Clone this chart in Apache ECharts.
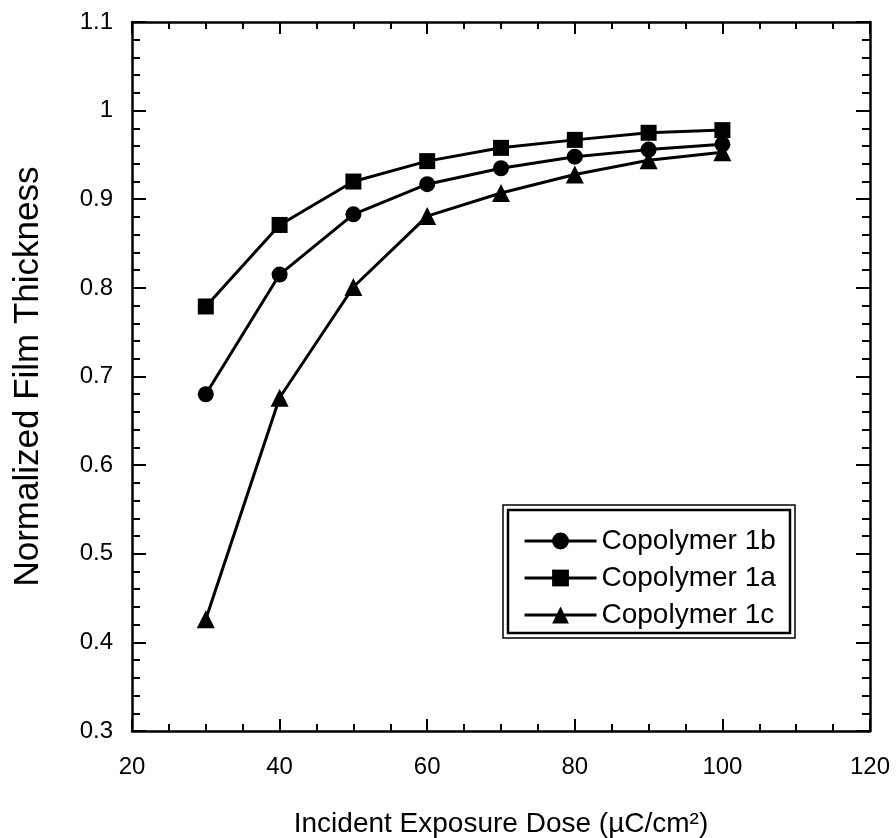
<!DOCTYPE html>
<html>
<head>
<meta charset="utf-8">
<script src="https://cdn.jsdelivr.net/npm/echarts@6/dist/echarts.min.js"></script>
<style>
  html, body { margin: 0; padding: 0; background: #fff; }
  #chart { width: 896px; height: 838px; }
</style>
</head>
<body>
<div id="chart"></div>
<script>
// dose values (uC/cm2)
var doses = [30, 40, 50, 60, 70, 80, 90, 100]
// normalized film thickness
var copolymer1b = [0.680, 0.815, 0.883, 0.917, 0.935, 0.948, 0.956, 0.962]
var copolymer1a = [0.779, 0.871, 0.920, 0.943, 0.958, 0.967, 0.975, 0.978]
var copolymer1c = [0.426, 0.676, 0.801, 0.881, 0.907, 0.928, 0.944, 0.953]

var FONT = '"Liberation Sans", Arial, sans-serif'

function pairs(ys) {
  return doses.map(function(x, i) { return [x, ys[i]] })
}

function lineSeries(name, ys, symbol, size) {
  return {
    name: name,
    type: 'line',
    data: pairs(ys),
    symbol: symbol,
    symbolSize: size,
    showSymbol: true,
    lineStyle: { color: '#000', width: 3 },
    itemStyle: { color: '#000', borderWidth: 0 },
    emphasis: { disabled: true },
    animation: false
  }
}

var chart = echarts.init(document.getElementById('chart'))

var xCommon = {
  type: 'value',
  min: 20,
  max: 120,
  interval: 20,
  axisLine: { show: true, onZero: false, lineStyle: { color: '#000', width: 2.5 } },
  axisTick: { show: true, inside: true, length: 12, lineStyle: { color: '#000', width: 2 } },
  minorTick: { show: true, splitNumber: 4, length: 7, lineStyle: { color: '#000', width: 2 } },
  splitLine: { show: false }
}
var yCommon = {
  type: 'value',
  min: 0.3,
  max: 1.1,
  interval: 0.1,
  axisLine: { show: true, onZero: false, lineStyle: { color: '#000', width: 2.5 } },
  axisTick: { show: true, inside: true, length: 14, lineStyle: { color: '#000', width: 2 } },
  minorTick: { show: true, splitNumber: 5, length: 8, lineStyle: { color: '#000', width: 2 } },
  splitLine: { show: false }
}

chart.setOption({
  backgroundColor: '#fff',
  animation: false,
  textStyle: { fontFamily: FONT },
  grid: { left: 132, right: 26, top: 22, bottom: 107, outerBoundsMode: 'none', containLabel: false },
  xAxis: [
    Object.assign({}, xCommon, {
      position: 'bottom',
      name: 'Incident Exposure Dose (\u00b5C/cm\u00b2)',
      nameLocation: 'middle',
      nameGap: 79,
      nameTextStyle: { color: '#000', fontSize: 28, fontFamily: FONT },
      axisLabel: { color: '#000', fontSize: 24, margin: 24, fontFamily: FONT }
    }),
    Object.assign({}, xCommon, {
      position: 'top',
      axisLabel: { show: false }
    })
  ],
  yAxis: [
    Object.assign({}, yCommon, {
      position: 'left',
      name: 'Normalized Film Thickness',
      nameLocation: 'middle',
      nameGap: 86,
      nameTextStyle: { color: '#000', fontSize: 35, fontFamily: FONT },
      axisLabel: { color: '#000', fontSize: 24, margin: 19, fontFamily: FONT }
    }),
    Object.assign({}, yCommon, {
      position: 'right',
      axisLabel: { show: false }
    })
  ],
  legend: {
    orient: 'vertical',
    left: 518,
    top: 522,
    itemWidth: 72,
    itemHeight: 21,
    itemGap: 9,
    lineStyle: { width: 3 },
    textStyle: { color: '#000', fontSize: 28, fontFamily: FONT, padding: [0, 0, 0, 0] },
    data: ['Copolymer 1b', 'Copolymer 1a', 'Copolymer 1c']
  },
  graphic: [
    {
      type: 'rect',
      shape: { x: 503, y: 505, width: 292, height: 133 },
      style: { fill: 'none', stroke: '#000', lineWidth: 1.5 },
      z: 100
    },
    {
      type: 'rect',
      shape: { x: 508, y: 510, width: 282, height: 123 },
      style: { fill: 'none', stroke: '#000', lineWidth: 2.5 },
      z: 100
    }
  ],
  series: [
    lineSeries('Copolymer 1b', copolymer1b, 'circle', 16),
    lineSeries('Copolymer 1a', copolymer1a, 'rect', 16),
    lineSeries('Copolymer 1c', copolymer1c, 'triangle', 18)
  ]
})
</script>
</body>
</html>
